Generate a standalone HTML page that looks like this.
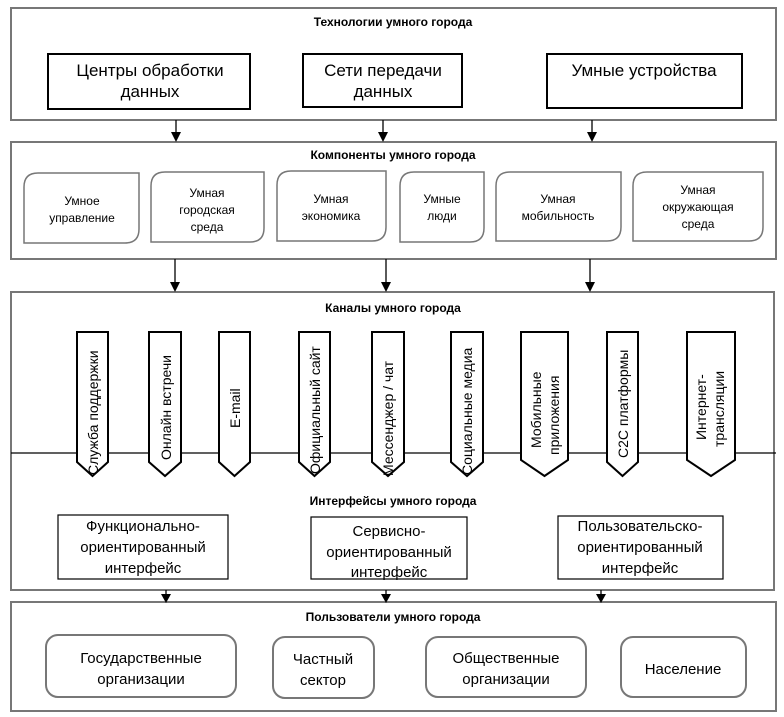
<!DOCTYPE html>
<html><head><meta charset="utf-8"><style>html,body{margin:0;padding:0;background:#fff}svg{display:block}text{font-family:"Liberation Sans",sans-serif;fill:#000}</style></head><body>
<svg width="784" height="717" viewBox="0 0 784 717" xmlns="http://www.w3.org/2000/svg">
<g fill="none" stroke="#777" stroke-width="2">
<rect x="11" y="8" width="765" height="112"/>
<rect x="11" y="142" width="765" height="117"/>
<rect x="11" y="292" width="763" height="298"/>
<rect x="11" y="602" width="765" height="109"/>
</g>
<g stroke="#000" stroke-width="1.3">
<line x1="176" y1="120" x2="176" y2="134"/><line x1="383" y1="120" x2="383" y2="134"/><line x1="592" y1="120" x2="592" y2="134"/>
<line x1="175" y1="259" x2="175" y2="284"/><line x1="386" y1="259" x2="386" y2="284"/><line x1="590" y1="259" x2="590" y2="284"/>
<line x1="166" y1="590" x2="166" y2="596"/><line x1="386" y1="590" x2="386" y2="596"/><line x1="601" y1="590" x2="601" y2="596"/>
</g>
<g fill="#000">
<path d="M171,132 H181 L176,142z"/><path d="M378,132 H388 L383,142z"/><path d="M587,132 H597 L592,142z"/>
<path d="M170,282 H180 L175,292z"/><path d="M381,282 H391 L386,292z"/><path d="M585,282 H595 L590,292z"/>
<path d="M161,594 H171 L166,603z"/><path d="M381,594 H391 L386,603z"/><path d="M596,594 H606 L601,603z"/>
</g>
<g font-weight="bold" font-size="12" text-anchor="middle">
<text x="393" y="26">Технологии умного города</text>
<text x="393" y="159">Компоненты умного города</text>
<text x="393" y="312">Каналы умного города</text>
<text x="393" y="505">Интерфейсы умного города</text>
<text x="393" y="621">Пользователи умного города</text>
</g>
<g fill="#fff" stroke="#000" stroke-width="2">
<rect x="48" y="54" width="202" height="55"/><rect x="303" y="54" width="159" height="53"/><rect x="547" y="54" width="195" height="54"/>
</g>
<g font-size="17" text-anchor="middle">
<text x="150" y="76">Центры обработки</text><text x="150" y="97">данных</text>
<text x="383" y="76">Сети передачи</text><text x="383" y="97">данных</text>
<text x="644" y="76">Умные устройства</text>
</g>
<g fill="#fff" stroke="#777" stroke-width="1.5">
<path d="M38,173 H139 V229 Q139,243 125,243 H24 V187 Q24,173 38,173z"/>
<path d="M165,172 H264 V228 Q264,242 250,242 H151 V186 Q151,172 165,172z"/>
<path d="M291,171 H386 V227 Q386,241 372,241 H277 V185 Q277,171 291,171z"/>
<path d="M414,172 H484 V228 Q484,242 470,242 H400 V186 Q400,172 414,172z"/>
<path d="M510,172 H621 V227 Q621,241 607,241 H496 V186 Q496,172 510,172z"/>
<path d="M647,172 H763 V227 Q763,241 749,241 H633 V186 Q633,172 647,172z"/>
</g>
<g font-size="12" text-anchor="middle">
<text x="82" y="205">Умное</text><text x="82" y="222">управление</text>
<text x="207" y="197">Умная</text><text x="207" y="214">городская</text><text x="207" y="231">среда</text>
<text x="331" y="203">Умная</text><text x="331" y="220">экономика</text>
<text x="442" y="203">Умные</text><text x="442" y="220">люди</text>
<text x="558" y="203">Умная</text><text x="558" y="220">мобильность</text>
<text x="698" y="194">Умная</text><text x="698" y="211">окружающая</text><text x="698" y="228">среда</text>
</g>
<line x1="11" y1="453" x2="776" y2="453" stroke="#000" stroke-width="1.2"/>
<g fill="#fff" stroke="#000" stroke-width="2">
<path d="M77,332 H108 V462 L92.5,476 L77,462z"/>
<path d="M149,332 H181 V462 L165,476 L149,462z"/>
<path d="M219,332 H250 V462 L234.5,476 L219,462z"/>
<path d="M299,332 H330 V462 L314.5,476 L299,462z"/>
<path d="M372,332 H404 V462 L388,476 L372,462z"/>
<path d="M451,332 H483 V462 L467,476 L451,462z"/>
<path d="M521,332 H568 V460 L544.5,476 L521,460z"/>
<path d="M607,332 H638 V462 L622.5,476 L607,462z"/>
<path d="M687,332 H735 V460 L711,476 L687,460z"/>
</g>
<g font-size="14" text-anchor="start">
<text transform="translate(98,475) rotate(-90)">Служба поддержки</text>
<text transform="translate(171,460) rotate(-90)">Онлайн встречи</text>
<text transform="translate(240,428) rotate(-90)">E-mail</text>
<text transform="translate(320,474) rotate(-90)">Официальный сайт</text>
<text transform="translate(393,476) rotate(-90)">Мессенджер / чат</text>
<text transform="translate(472,475) rotate(-90)">Социальные медиа</text>
<text transform="translate(541,448) rotate(-90)">Мобильные</text>
<text transform="translate(559,455) rotate(-90)">приложения</text>
<text transform="translate(628,458) rotate(-90)">C2C платформы</text>
<text transform="translate(706,440) rotate(-90)">Интернет-</text>
<text transform="translate(724,447) rotate(-90)">трансляции</text>
</g>
<g fill="#fff" stroke="#000" stroke-width="1.2">
<rect x="58" y="515" width="170" height="64"/><rect x="311" y="517" width="156" height="62"/><rect x="558" y="516" width="165" height="63"/>
</g>
<g font-size="15" text-anchor="middle">
<text x="143" y="531">Функционально-</text><text x="143" y="552">ориентированный</text><text x="143" y="573">интерфейс</text>
<text x="389" y="536">Сервисно-</text><text x="389" y="557">ориентированный</text><text x="389" y="577">интерфейс</text>
<text x="640" y="531">Пользовательско-</text><text x="640" y="552">ориентированный</text><text x="640" y="573">интерфейс</text>
</g>
<g fill="#fff" stroke="#777" stroke-width="2">
<rect x="46" y="635" width="190" height="62" rx="12"/><rect x="273" y="637" width="101" height="61" rx="12"/>
<rect x="426" y="637" width="160" height="60" rx="12"/><rect x="621" y="637" width="125" height="60" rx="12"/>
</g>
<g font-size="15" text-anchor="middle">
<text x="141" y="663">Государственные</text><text x="141" y="684">организации</text>
<text x="323" y="664">Частный</text><text x="323" y="685">сектор</text>
<text x="506" y="663">Общественные</text><text x="506" y="684">организации</text>
<text x="683" y="674">Население</text>
</g>
</svg>
</body></html>
